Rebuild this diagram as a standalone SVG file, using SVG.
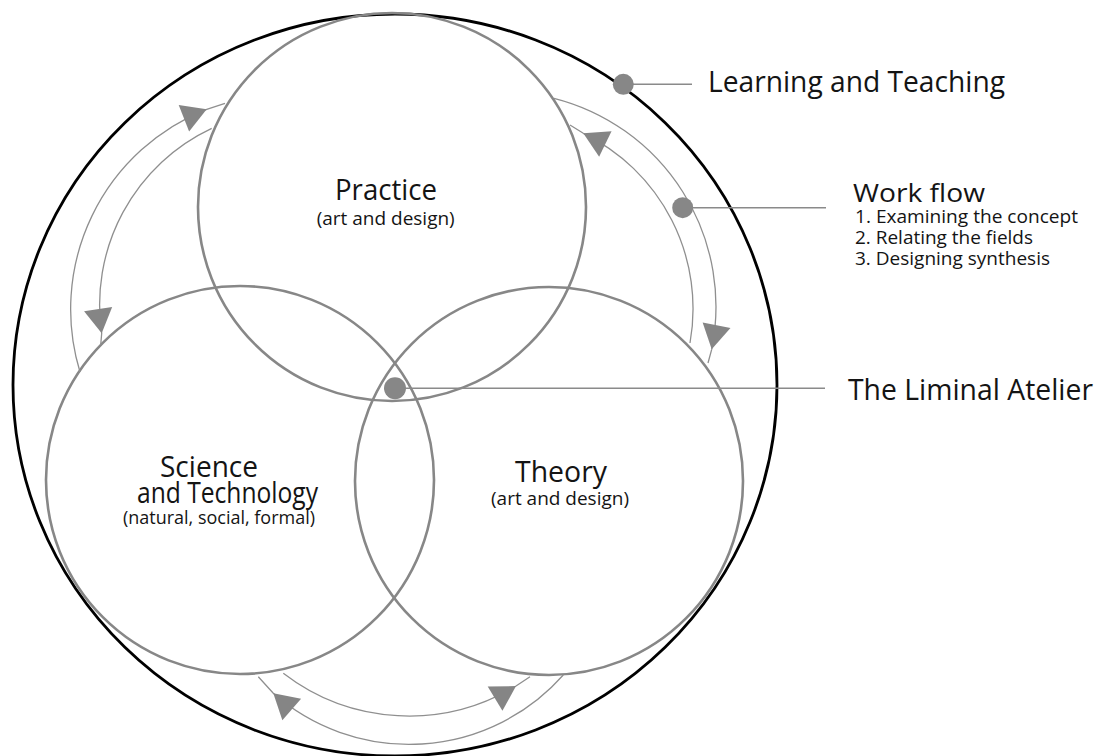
<svg xmlns="http://www.w3.org/2000/svg" width="1104" height="756" viewBox="0 0 1104 756">
<style>
.bg{fill:#fff}
.outer{fill:none;stroke:#000;stroke-width:2.8}
.ring{fill:none;stroke:#878787;stroke-width:2.6}
.flow{fill:none;stroke:#8f8f8f;stroke-width:1.3}
.leader{fill:none;stroke:#8a8a8a;stroke-width:1.5}
.dot{fill:#878787}
.t{font-family:"Open Sans","Noto Sans","DejaVu Sans",sans-serif;fill:#141414}
.big{font-size:30px}
.mid{font-size:25px}
.sm{font-size:17.5px}
.item{font-size:18px}
</style>
<defs>
<marker id="ah" markerUnits="userSpaceOnUse" markerWidth="30" markerHeight="32" viewBox="-27 -16 30 32" refX="0" refY="0" orient="auto">
<path d="M0,0 L-24.5,-14.2 L-24.5,14.2 Z" fill="#858585"/>
</marker>
</defs>
<rect class="bg" x="0" y="0" width="1104" height="756"/>
<g id="learning-teaching-frame">
<ellipse class="outer" cx="395" cy="385" rx="382" ry="371"/>
</g>
<g id="practice">
<circle class="ring" cx="392" cy="207" r="194"/>
<text class="t big" x="335" y="200" textLength="102" lengthAdjust="spacingAndGlyphs">Practice</text>
<text class="t sm" x="316.7" y="224.5" textLength="138" lengthAdjust="spacingAndGlyphs">(art and design)</text>
</g>
<g id="science">
<circle class="ring" cx="240" cy="480" r="194"/>
<text class="t big" x="160" y="477" textLength="98" lengthAdjust="spacingAndGlyphs">Science</text>
<text class="t big" x="137" y="503" textLength="181" lengthAdjust="spacingAndGlyphs">and Technology</text>
<text class="t sm" x="123" y="524" textLength="192" lengthAdjust="spacingAndGlyphs">(natural, social, formal)</text>
</g>
<g id="theory">
<circle class="ring" cx="549" cy="481" r="194"/>
<text class="t big" x="515" y="481.7" textLength="92" lengthAdjust="spacingAndGlyphs">Theory</text>
<text class="t sm" x="491" y="505" textLength="138" lengthAdjust="spacingAndGlyphs">(art and design)</text>
</g>
<g id="connectors">
<path class="flow" marker-end="url(#ah)" d="M225,103.3 L206.7,109.3 M80,372 A215,215 0 0 1 206.7,109.3"/>
<path class="flow" marker-end="url(#ah)" d="M100.7,345 L101.7,333.3 M211.7,128.3 A195,195 0 0 0 101.7,333.3"/>
<path class="flow" marker-end="url(#ah)" d="M708,363 L711.7,349.3 M554,98.3 A215,215 0 0 1 711.7,349.3"/>
<path class="flow" marker-end="url(#ah)" d="M570,125 L583.3,133.3 M690,343 A195,195 0 0 0 583.3,133.3"/>
<path class="flow" marker-end="url(#ah)" d="M530,676.7 L516,686 M283.3,673.3 A206,206 0 0 0 516,686"/>
<path class="flow" marker-end="url(#ah)" d="M258.3,676.7 L273.3,693.3 M563.3,675 A206,206 0 0 1 273.3,693.3"/>
</g>
<g id="learning-teaching">
<line class="leader" x1="623.3" y1="84.3" x2="692" y2="84.3"/>
<circle class="dot" cx="623.3" cy="84.3" r="10.5"/>
<text class="t big" x="708" y="92" textLength="297" lengthAdjust="spacingAndGlyphs">Learning and Teaching</text>
</g>
<g id="work-flow">
<line class="leader" x1="682.7" y1="207.7" x2="826" y2="207.7"/>
<circle class="dot" cx="682.7" cy="207.7" r="10.5"/>
<text class="t mid" x="853" y="201.7" textLength="132" lengthAdjust="spacingAndGlyphs">Work flow</text>
<text class="t item" x="855" y="223.3" textLength="223" lengthAdjust="spacingAndGlyphs">1. Examining the concept</text>
<text class="t item" x="855" y="244" textLength="178" lengthAdjust="spacingAndGlyphs">2. Relating the fields</text>
<text class="t item" x="855" y="264.5" textLength="195" lengthAdjust="spacingAndGlyphs">3. Designing synthesis</text>
</g>
<g id="liminal-atelier">
<line class="leader" x1="395" y1="388.3" x2="825" y2="388.3"/>
<circle class="dot" cx="395" cy="388.3" r="11"/>
<text class="t big" x="848" y="400" textLength="245" lengthAdjust="spacingAndGlyphs" style="font-size:28.5px">The Liminal Atelier</text>
</g>
</svg>
